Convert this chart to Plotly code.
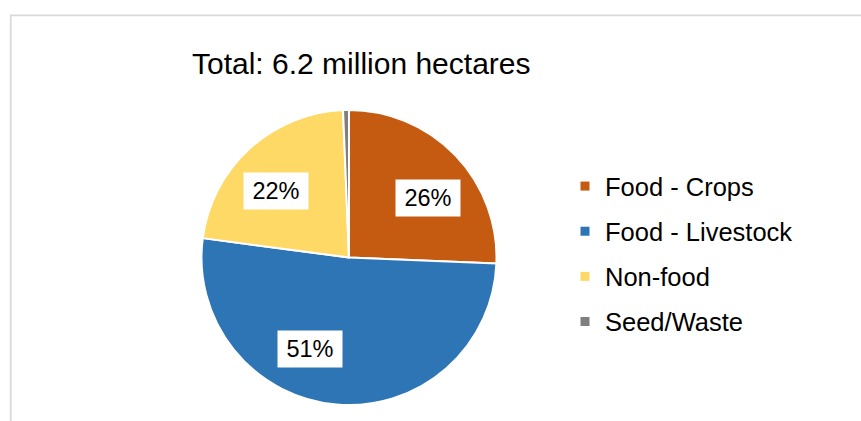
import math
import plotly.graph_objects as go

# Land use split (million hectares)
categories = ["Food - Crops", "Food - Livestock", "Non-food", "Seed/Waste"]
area_mha = [1.59, 3.19, 1.38, 0.04]
slice_colors = ["#C55A11", "#2E75B6", "#FFD966", "#7F7F7F"]
title_text = "Total: 6.2 million hectares"

# Canvas and pie geometry (px)
W, H = 861, 421
CX, CY, R = 349, 257.5, 147.5
FONT = "Arial, 'Liberation Sans', sans-serif"

# Small angular nudges for the boxed percentage labels (degrees)
label_nudge = [7, 18, -5, 0]
label_radius = 0.67


def px_to_paper(x, y):
    return x / W, 1 - y / H


fig = go.Figure()

fig.add_trace(go.Pie(
    labels=categories,
    values=area_mha,
    sort=False,
    direction="clockwise",
    rotation=0,
    marker=dict(colors=slice_colors, line=dict(color="white", width=2)),
    textinfo="none",
    showlegend=False,
    domain=dict(x=[(CX - R) / W, (CX + R) / W],
                y=[1 - (CY + R) / H, 1 - (CY - R) / H]),
))

# Legend entries with small square swatches
for name, col in zip(categories, slice_colors):
    fig.add_trace(go.Scatter(
        x=[None], y=[None], mode="markers", name=name, legendgroup=name,
        marker=dict(symbol="square", size=9, color=col),
    ))

# Boxed percentage labels placed along each slice's mid-angle
total = sum(area_mha)
annotations = []
cum = 0.0
for i, v in enumerate(area_mha):
    pct = v / total * 100
    mid = (cum + v / 2) / total * 360 + label_nudge[i]
    cum += v
    if pct < 2:
        continue
    lx = CX + R * label_radius * math.sin(math.radians(mid))
    ly = CY - R * label_radius * math.cos(math.radians(mid))
    px, py = px_to_paper(lx, ly)
    annotations.append(dict(
        x=px, y=py, xref="paper", yref="paper", showarrow=False,
        text=f"{pct:.0f}%", font=dict(family=FONT, size=23.5, color="black"),
        bgcolor="white", width=62, height=34, borderpad=1,
        xanchor="center", yanchor="middle",
    ))

tx, ty = px_to_paper(361, 63)
annotations.append(dict(
    x=tx, y=ty, xref="paper", yref="paper", showarrow=False,
    text=title_text, font=dict(family=FONT, size=30, color="black"),
    xanchor="center", yanchor="middle",
))

lx, ly = px_to_paper(605 - 40, 163)
fig.update_layout(
    width=W, height=H,
    margin=dict(l=0, r=0, t=0, b=0),
    paper_bgcolor="white", plot_bgcolor="white",
    xaxis=dict(visible=False), yaxis=dict(visible=False),
    annotations=annotations,
    legend=dict(x=lx, y=ly, xanchor="left", yanchor="top",
                traceorder="grouped", tracegroupgap=9,
                font=dict(family=FONT, size=25.5, color="black"),
                bgcolor="rgba(0,0,0,0)"),
    shapes=[dict(type="rect", xref="paper", yref="paper",
                 x0=10.75 / W, x1=1.05, y0=-0.05, y1=1 - 15.25 / H,
                 line=dict(color="#D9D9D9", width=1.75), layer="below")],
)

fig.write_html("out.html")
